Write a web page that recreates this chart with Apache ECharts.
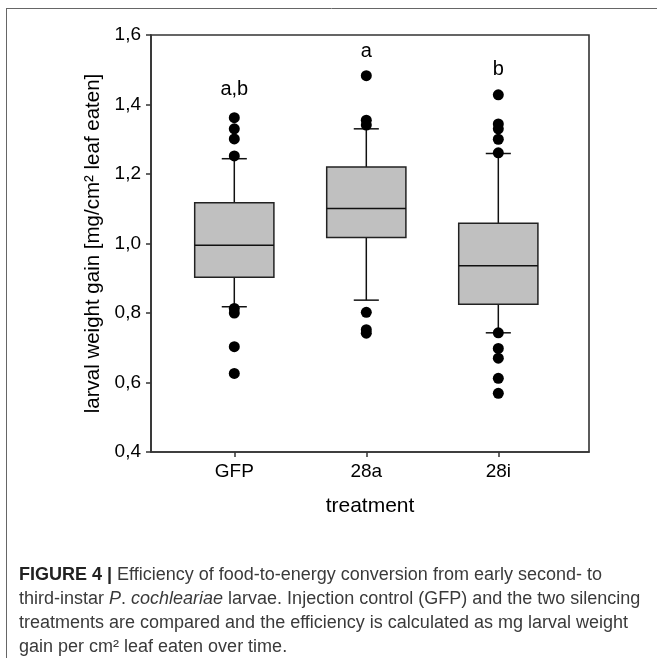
<!DOCTYPE html>
<html>
<head>
<meta charset="utf-8">
<script src="https://cdn.jsdelivr.net/npm/echarts@6/dist/echarts.min.js"></script>
<style>
html,body{margin:0;padding:0;background:#fff;}
#chart{width:657px;height:658px;}
</style>
</head>
<body>
<div id="chart"></div>
<script>
// ---- data ----
var categories = ['GFP', '28a', '28i'];
var lowerWhisker = [0.818, 0.837, 0.743];
var q1 = [0.903, 1.017, 0.825];
var median = [0.995, 1.101, 0.936];
var q3 = [1.117, 1.220, 1.058];
var upperWhisker = [1.244, 1.330, 1.259];
var outliersGFP = [1.362, 1.330, 1.301, 1.252, 0.813, 0.800, 0.703, 0.626];
var outliers28a = [1.483, 1.355, 1.341, 0.802, 0.752, 0.742];
var outliers28i = [1.428, 1.344, 1.330, 1.300, 1.261, 0.743, 0.698, 0.670, 0.612, 0.569];
var letters = ['a,b', 'a', 'b'];
var letterY = [1.442, 1.552, 1.501];
var yTicks = [0.4, 0.6, 0.8, 1.0, 1.2, 1.4, 1.6];

// ---- build series data ----
var boxData = categories.map(function (c, i) {
  return [i, lowerWhisker[i], q1[i], median[i], q3[i], upperWhisker[i]];
});
var outlierData = [];
[outliersGFP, outliers28a, outliers28i].forEach(function (arr, i) {
  arr.forEach(function (v) { outlierData.push([i, v]); });
});
var letterData = letters.map(function (t, i) { return [i, letterY[i], t]; });

var chart = echarts.init(document.getElementById('chart'), null, {renderer: 'canvas'});
var BOX_HALF = 0.3;   // in category units
var CAP_HALF = 0.095;
var FONT = 'Liberation Sans';

var option = {
  backgroundColor: '#fff',
  animation: false,
  grid: {
    left: 151, top: 35, width: 438, height: 417,
    show: true, borderColor: '#333', borderWidth: 1.6, backgroundColor: 'transparent'
  },
  xAxis: {
    type: 'value', min: -0.631, max: 2.687,
    splitLine: {show: false},
    axisLine: {show: true, onZero: false, lineStyle: {color: '#333', width: 1.6}},
    axisTick: {show: true, customValues: [0, 1, 2], length: 5, lineStyle: {color: '#333', width: 1.5}},
    axisLabel: {
      customValues: [0, 1, 2], margin: 10, fontSize: 19, color: '#000',
      fontFamily: FONT,
      formatter: function (v) { return categories[Math.round(v)]; }
    },
    name: 'treatment', nameLocation: 'middle', nameGap: 44,
    nameTextStyle: {fontSize: 21, color: '#000', fontFamily: FONT}
  },
  yAxis: {
    type: 'value', min: 0.4, max: 1.6, interval: 0.2,
    splitLine: {show: false},
    axisLine: {show: true, onZero: false, lineStyle: {color: '#333', width: 1.6}},
    axisTick: {show: true, length: 5, lineStyle: {color: '#333', width: 1.5}},
    axisLabel: {
      margin: 10, fontSize: 19, color: '#000', fontFamily: FONT,
      formatter: function (v) { return v.toFixed(1).replace('.', ','); }
    },
    name: 'larval weight gain [mg/cm\u00b2 leaf eaten]', nameLocation: 'middle', nameGap: 47,
    nameTextStyle: {fontSize: 20.5, color: '#000', fontFamily: FONT}
  },
  series: [
    {
      type: 'custom',
      data: boxData,
      encode: {x: 0, y: [1, 2, 3, 4, 5]},
      renderItem: function (params, api) {
        var x = api.value(0);
        var lw = api.coord([x, api.value(1)]);
        var b1 = api.coord([x, api.value(2)]);
        var md = api.coord([x, api.value(3)]);
        var b3 = api.coord([x, api.value(4)]);
        var uw = api.coord([x, api.value(5)]);
        var left = api.coord([x - BOX_HALF, 0])[0];
        var right = api.coord([x + BOX_HALF, 0])[0];
        var cl = api.coord([x - CAP_HALF, 0])[0];
        var cr = api.coord([x + CAP_HALF, 0])[0];
        var ls = {stroke: '#111', lineWidth: 1.5};
        return {
          type: 'group',
          children: [
            {type: 'line', shape: {x1: lw[0], y1: lw[1], x2: b1[0], y2: b1[1]}, style: ls},
            {type: 'line', shape: {x1: b3[0], y1: b3[1], x2: uw[0], y2: uw[1]}, style: ls},
            {type: 'line', shape: {x1: cl, y1: lw[1], x2: cr, y2: lw[1]}, style: ls},
            {type: 'line', shape: {x1: cl, y1: uw[1], x2: cr, y2: uw[1]}, style: ls},
            {type: 'rect', shape: {x: left, y: b3[1], width: right - left, height: b1[1] - b3[1]},
              style: {fill: '#c0c0c0', stroke: '#222', lineWidth: 1.5}},
            {type: 'line', shape: {x1: left, y1: md[1], x2: right, y2: md[1]}, style: ls}
          ]
        };
      },
      z: 2
    },
    {
      type: 'scatter',
      data: outlierData,
      symbol: 'circle', symbolSize: 11,
      itemStyle: {color: '#000', opacity: 1},
      z: 3
    },
    {
      type: 'scatter',
      data: letterData,
      symbolSize: 0,
      itemStyle: {opacity: 1},
      label: {
        show: true, position: 'inside', fontSize: 20, color: '#000', fontFamily: FONT,
        formatter: function (p) { return p.value[2]; }
      },
      z: 4
    }
  ],
  graphic: [
    {type: 'line', shape: {x1: 6, y1: 8.5, x2: 657, y2: 8.5}, style: {stroke: '#666', lineWidth: 1}},
    {type: 'line', shape: {x1: 6.5, y1: 8, x2: 6.5, y2: 658}, style: {stroke: '#666', lineWidth: 1}},
    {
      type: 'text', left: 19, top: 563,
      style: {
        text: '{b|FIGURE 4 |} {r|Efficiency of food-to-energy conversion from early second- to}\n' +
              '{r|third-instar }{i|P}{r|. }{i|cochleariae}{r| larvae. Injection control (GFP) and the two silencing}\n' +
              '{r|treatments are compared and the efficiency is calculated as mg larval weight}\n' +
              '{r|gain per cm\u00b2 leaf eaten over time.}',
        fontFamily: FONT, fontSize: 18, lineHeight: 24, fill: '#333',
        rich: {
          b: {fontWeight: 'bold', fontSize: 18, fill: '#222', fontFamily: FONT, lineHeight: 24},
          r: {fontSize: 18, fill: '#3a3a3a', fontFamily: FONT, lineHeight: 24},
          i: {fontSize: 18, fontStyle: 'italic', fill: '#3a3a3a', fontFamily: FONT, lineHeight: 24}
        }
      }
    }
  ]
};
chart.setOption(option);
</script>
</body>
</html>
